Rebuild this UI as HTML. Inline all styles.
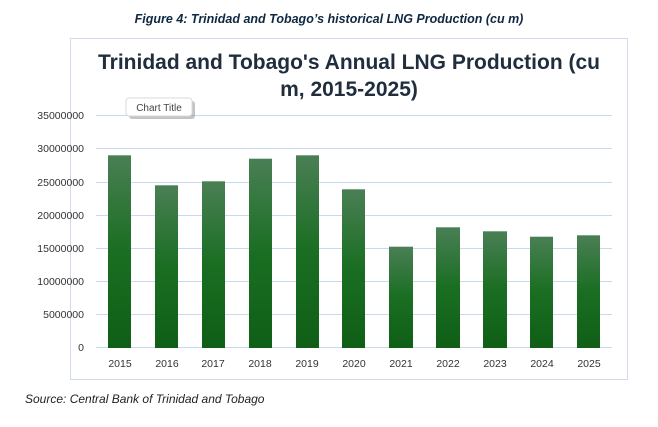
<!DOCTYPE html>
<html><head><style>
body{margin:0;background:#fff;width:658px;height:422px;overflow:hidden;font-family:"Liberation Sans",sans-serif}
</style></head><body>
<svg width="658" height="422" xmlns="http://www.w3.org/2000/svg" font-family="Liberation Sans, sans-serif">
<defs><linearGradient id="g" x1="0" y1="0" x2="0" y2="1">
<stop offset="0" stop-color="#4a7f55"/><stop offset="0.5" stop-color="#1a6e22"/><stop offset="1" stop-color="#0f5f16"/></linearGradient></defs>
<text x="329" y="23" text-anchor="middle" font-size="12.5" font-weight="bold" font-style="italic" fill="#0e2841">Figure 4: Trinidad and Tobago’s historical LNG Production (cu m)</text>
<rect x="70.5" y="38.5" width="557" height="341" fill="#fff" stroke="#d0dcea"/>
<text x="349" y="69" text-anchor="middle" font-size="21" font-weight="bold" fill="#1f2d3d">Trinidad and Tobago's Annual LNG Production (cu</text>
<text x="349" y="96" text-anchor="middle" font-size="21" font-weight="bold" fill="#1f2d3d">m, 2015-2025)</text>
<g stroke="#c9daf0" stroke-width="1">
<line x1="96" x2="612" y1="115.5" y2="115.5"/><line x1="96" x2="612" y1="148.5" y2="148.5"/><line x1="96" x2="612" y1="182.5" y2="182.5"/><line x1="96" x2="612" y1="215.5" y2="215.5"/><line x1="96" x2="612" y1="248.5" y2="248.5"/><line x1="96" x2="612" y1="281.5" y2="281.5"/><line x1="96" x2="612" y1="314.5" y2="314.5"/><line x1="96" x2="612" y1="347.5" y2="347.5"/>
</g>
<g font-size="10.5" fill="#333" text-anchor="end">
<text x="84" y="119">35000000</text><text x="84" y="152">30000000</text><text x="84" y="186">25000000</text><text x="84" y="219">20000000</text><text x="84" y="252">15000000</text><text x="84" y="285">10000000</text><text x="84" y="318">5000000</text><text x="84" y="351">0</text>
</g>
<g fill="url(#g)">
<rect x="108" y="155.3" width="23" height="192.7"/>
<rect x="155" y="185.3" width="23" height="162.7"/>
<rect x="202" y="181.3" width="23" height="166.7"/>
<rect x="249" y="158.7" width="23" height="189.3"/>
<rect x="296" y="155.3" width="23" height="192.7"/>
<rect x="342" y="189.3" width="23" height="158.7"/>
<rect x="389" y="246.7" width="24" height="101.3"/>
<rect x="436" y="227.3" width="24" height="120.7"/>
<rect x="483" y="231.3" width="24" height="116.7"/>
<rect x="530" y="236.7" width="23" height="111.3"/>
<rect x="577" y="235.3" width="23" height="112.7"/>
</g>
<g font-size="10.5" fill="#333" text-anchor="middle">
<text x="120" y="367">2015</text><text x="167" y="367">2016</text><text x="213" y="367">2017</text><text x="260" y="367">2018</text><text x="307" y="367">2019</text><text x="354" y="367">2020</text><text x="401" y="367">2021</text><text x="448" y="367">2022</text><text x="495" y="367">2023</text><text x="542" y="367">2024</text><text x="589" y="367">2025</text>
</g>
<rect x="129" y="101" width="66" height="18" rx="3" fill="#8a8a8a" opacity="0.5"/>
<rect x="126" y="98" width="66" height="18" rx="3" fill="#fff" stroke="#d8d8d8"/>
<text x="159" y="111" text-anchor="middle" font-size="10" fill="#444">Chart Title</text>
<text x="25" y="403" font-size="12" font-style="italic" fill="#222">Source: Central Bank of Trinidad and Tobago</text>
</svg>
</body></html>
